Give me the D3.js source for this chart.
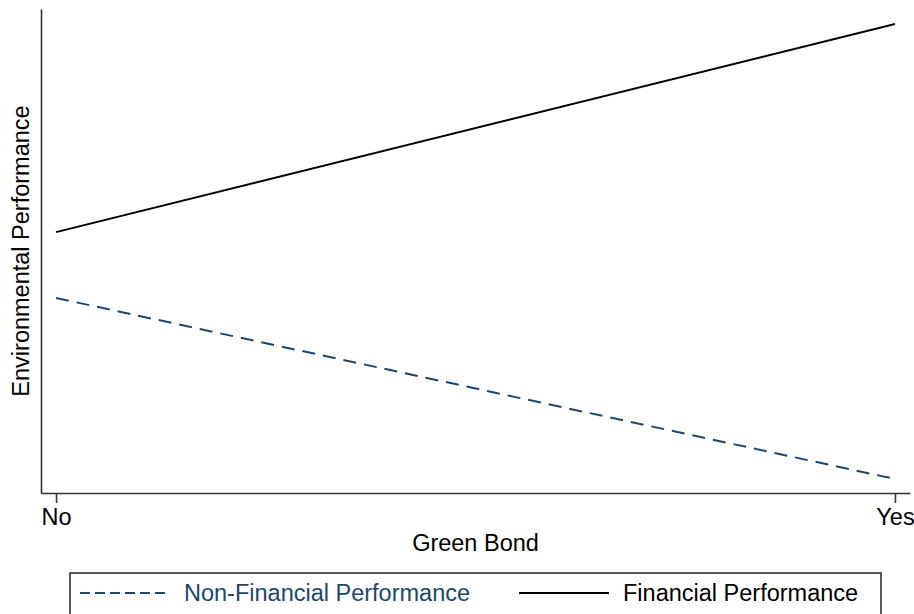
<!DOCTYPE html>
<html>
<head>
<meta charset="utf-8">
<script src="https://cdnjs.cloudflare.com/ajax/libs/d3/7.8.5/d3.min.js"></script>
<style>
  body { margin: 0; background: #fff; }
  text { font-family: "Liberation Sans", Arial, Helvetica, sans-serif; }
</style>
</head>
<body>
<div id="chart"></div>
<script>
// Categories on the x axis
var categories = ["No", "Yes"];
// Series (predicted environmental performance, arbitrary units)
var seriesNames = ["Non-Financial Performance", "Financial Performance"];
var nonFinancial = [0.403, 0.029];
var financial = [0.539, 0.969];

var svgWidth = 914;
var svgHeight = 614;

var margin = { top: 9, right: 4, bottom: 121, left: 41 };
var chartWidth = svgWidth - margin.left - margin.right;
var chartHeight = svgHeight - margin.top - margin.bottom;

var svg = d3.select("#chart").append("svg")
    .attr("width", svgWidth)
    .attr("height", svgHeight);

var chartGroup = svg.append("g")
    .attr("transform", `translate(${margin.left}, ${margin.top})`);

// Scales
var pad = 0.0179;
var xScale = d3.scaleLinear()
    .domain([-pad, categories.length - 1 + pad])
    .range([0, chartWidth]);
var yScale = d3.scaleLinear()
    .domain([0, 1])
    .range([chartHeight, 0]);

// Axes
var bottomAxis = d3.axisBottom(xScale)
    .tickValues(d3.range(categories.length))
    .tickFormat(i => categories[i])
    .tickSize(10)
    .tickSizeOuter(0)
    .tickPadding(5);
var leftAxis = d3.axisLeft(yScale).tickValues([]).tickSizeOuter(0);

var xAxisG = chartGroup.append("g")
    .attr("transform", `translate(0, ${chartHeight})`)
    .call(bottomAxis);
xAxisG.select(".domain").attr("stroke", "#333").attr("stroke-width", 1.6);
xAxisG.selectAll(".tick line").attr("stroke", "#333").attr("stroke-width", 1.6);
xAxisG.selectAll(".tick text")
    .attr("fill", "#000")
    .style("font-size", "23.5px");

var yAxisG = chartGroup.append("g").call(leftAxis);
yAxisG.select(".domain").attr("stroke", "#333").attr("stroke-width", 1.6);

// Lines
var line = d3.line()
    .x((d, i) => xScale(i))
    .y(d => yScale(d));

chartGroup.append("path")
    .datum(nonFinancial)
    .attr("d", line)
    .attr("fill", "none")
    .attr("stroke", "#1a476f")
    .attr("stroke-width", 2)
    .attr("stroke-dasharray", "13,8");

chartGroup.append("path")
    .datum(financial)
    .attr("d", line)
    .attr("fill", "none")
    .attr("stroke", "#000")
    .attr("stroke-width", 2);

// Axis titles
chartGroup.append("text")
    .attr("x", chartWidth / 2)
    .attr("y", chartHeight + 58)
    .attr("text-anchor", "middle")
    .style("font-size", "23.5px")
    .text("Green Bond");

svg.append("text")
    .attr("transform", `translate(29, ${margin.top + chartHeight / 2}) rotate(-90)`)
    .attr("text-anchor", "middle")
    .style("font-size", "23.5px")
    .text("Environmental Performance");

// Legend
var legend = svg.append("g");
legend.append("rect")
    .attr("x", 70)
    .attr("y", 573)
    .attr("width", 811)
    .attr("height", 60)
    .attr("fill", "none")
    .attr("stroke", "#333")
    .attr("stroke-width", 1.6);

var legendItems = [
    { name: seriesNames[0], x: 80, color: "#1a476f", dash: "10,5", textColor: "#1a476f" },
    { name: seriesNames[1], x: 519, color: "#000", dash: null, textColor: "#000" }
];
legendItems.forEach(function(item) {
    legend.append("line")
        .attr("x1", item.x)
        .attr("x2", item.x + 90)
        .attr("y1", 593)
        .attr("y2", 593)
        .attr("stroke", item.color)
        .attr("stroke-width", 2)
        .attr("stroke-dasharray", item.dash);
    legend.append("text")
        .attr("x", item.x + 104)
        .attr("y", 601)
        .attr("fill", item.textColor)
        .style("font-size", "23.5px")
        .text(item.name);
});
</script>
</body>
</html>
